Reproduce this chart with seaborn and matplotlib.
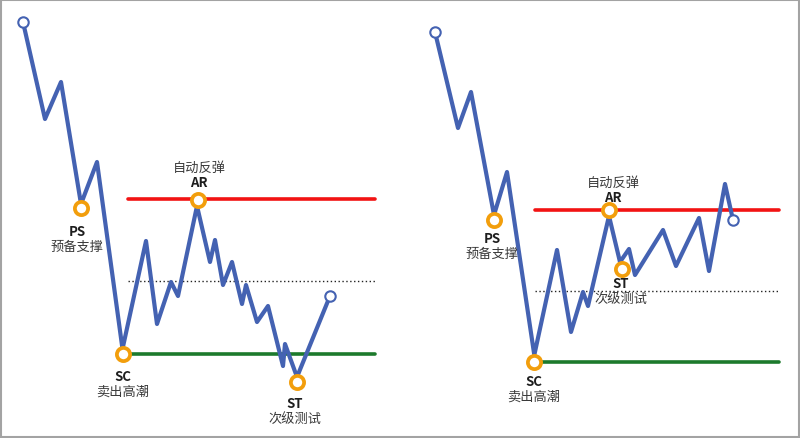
import matplotlib
matplotlib.use("Agg")
import matplotlib.pyplot as plt
import seaborn as sns
import pandas as pd
from matplotlib.patches import Rectangle

# price path, left panel (x = bar position, y = price level, screen-down axis)
left_x = [23, 45, 61, 81, 97, 122.5, 146, 157, 171, 178, 197, 210, 215, 223, 232, 242, 246, 257, 268, 283, 285, 297, 330]
left_y = [23, 120, 83, 205, 163, 350, 242, 325, 283, 297, 207, 263, 241, 286, 263, 305, 286, 323, 307, 367, 345, 378, 297]

# price path, right panel
right_x = [435, 458, 471, 494, 507, 534.3, 557, 571, 583, 588, 609, 620, 629, 635, 663, 676, 699, 709, 725, 733]
right_y = [33, 129, 93, 216, 173, 356, 251, 333, 293, 307, 217, 263, 250, 276, 231, 267, 219, 272, 185, 221]

# key events
left_events = ["PS", "SC", "AR", "ST"]
left_event_x = [81, 122.7, 198, 296.7]
left_event_y = [209, 355, 200.7, 383.3]
left_event_cn = ["预备支撑", "卖出高潮", "自动反弹", "次级测试"]

right_events = ["PS", "SC", "AR", "ST"]
right_event_x = [494, 534.3, 609, 621.7]
right_event_y = [221, 363.3, 211, 270]
right_event_cn = ["预备支撑", "卖出高潮", "自动反弹", "次级测试"]

# range levels: resistance, mid, support
left_levels = {"resistance": 200, "mid": 282, "support": 355.3}
left_level_x = {"resistance": (127.7, 375), "mid": (128, 375), "support": (123, 375)}
right_levels = {"resistance": 210.7, "mid": 291.7, "support": 363.3}
right_level_x = {"resistance": (535, 779), "mid": (535, 779), "support": (540, 779)}

BLUE = "#4462b2"
ORANGE = "#f29e0c"
RED = "#f21313"
GREEN = "#1c7a2c"

sns.set_theme(style="white")
plt.rcParams["font.family"] = ["Noto Sans CJK SC", "DejaVu Sans"]

fig = plt.figure(figsize=(8, 4.39), dpi=100)
ax = fig.add_axes([0, 0, 1, 1])
ax.set_xlim(0, 800)
ax.set_ylim(439, 0)
ax.axis("off")

level_style = {
    "resistance": dict(color=RED, lw=2.6, ls="-"),
    "mid": dict(color="#222222", lw=1.0, ls=(0, (1, 1.8))),
    "support": dict(color=GREEN, lw=2.6, ls="-"),
}

for levels, level_x in [(left_levels, left_level_x), (right_levels, right_level_x)]:
    for key, yv in levels.items():
        x0, x1 = level_x[key]
        ax.plot([x0, x1], [yv, yv], zorder=1, **level_style[key])

for xs, ys in [(left_x, left_y), (right_x, right_y)]:
    df = pd.DataFrame({"x": xs, "y": ys})
    sns.lineplot(data=df, x="x", y="y", sort=False, color=BLUE, lw=3.0,
                 ax=ax, zorder=2)
    ends = df.iloc[[0, -1]]
    ax.plot(ends["x"], ends["y"], ls="none", marker="o", ms=7.5, mfc="white",
            mec=BLUE, mew=1.5, zorder=4)

# event markers
for ex, ey in [(left_event_x, left_event_y), (right_event_x, right_event_y)]:
    ax.plot(ex, ey, ls="none", marker="o", ms=9.5, mfc="white", mec=ORANGE,
            mew=2.7, zorder=5)

# labels: code (bold) + chinese name
label_pos = {
    "left": {"PS": (77, 232), "SC": (123, 377), "AR": (199, 183), "ST": (295, 404)},
    "right": {"PS": (492, 239), "SC": (534, 382), "AR": (613, 198), "ST": (621, 284)},
}
for side, codes, cns in [("left", left_events, left_event_cn), ("right", right_events, right_event_cn)]:
    for code, cn in zip(codes, cns):
        tx, ty = label_pos[side][code]
        if code == "AR":
            ax.text(tx, ty - 15, cn, ha="center", va="center", fontsize=9.5, color="#3a3a3a")
            ax.text(tx, ty, code, ha="center", va="center", fontsize=9.5, fontweight="bold", color="#1e1e1e")
        else:
            ax.text(tx, ty, code, ha="center", va="center", fontsize=9.5, fontweight="bold", color="#1e1e1e")
            ax.text(tx, ty + 15, cn, ha="center", va="center", fontsize=9.5, color="#3a3a3a")

# outer frame
ax.add_patch(Rectangle((0.8, 0.8), 798.4, 437.4, fill=False, ec="#a3a3a3", lw=1.5, zorder=6))

fig.savefig("out.png", dpi=100)
